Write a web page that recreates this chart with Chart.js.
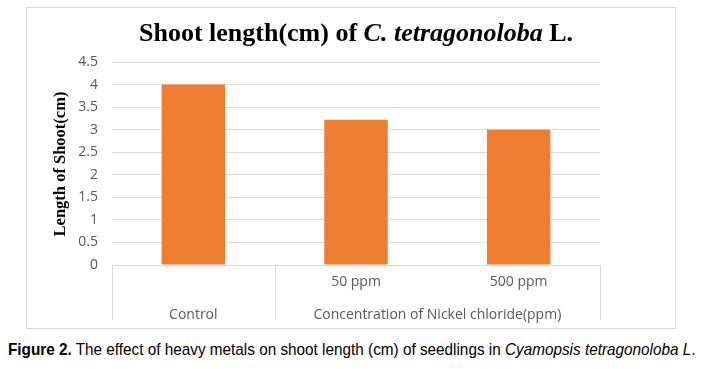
<!DOCTYPE html>
<html>
<head>
<meta charset="utf-8">
<script src="https://cdn.jsdelivr.net/npm/chart.js@4.4.1/dist/chart.umd.min.js"></script>
<style>
  html, body { margin: 0; padding: 0; background: #fff; }
  body { width: 711px; height: 369px; position: relative; overflow: hidden; }
  #box { position: absolute; left: 26px; top: 7px; width: 648px; height: 320px; border: 1px solid #d9d9d9; }
  #box canvas { display: block; }
  #caption { position: absolute; left: 8px; top: 341px; white-space: nowrap; line-height: 17px;
             font-family: "Liberation Sans", Arial, sans-serif; font-size: 17px; color: #000;
             transform: scaleX(0.9); transform-origin: left center; }
</style>
</head>
<body>
<div id="box"><canvas id="shootChart" width="648" height="320"></canvas></div>
<div id="caption"><b>Figure 2.</b> The effect of heavy metals on shoot length (cm) of seedlings in <i>Cyamopsis tetragonoloba L</i>.</div>
<script>
// Chart data
const categories = ['Control', '50 ppm', '500 ppm'];
const shootLength = [4.0, 3.22, 3.0];
const tickLabels = ['', '50 ppm', '500 ppm'];
const groupLabels = ['Control', 'Concentration of Nickel chloride(ppm)'];
const groupRanges = [[0, 0], [1, 2]];

const gridColor = '#d9d9d9';
const textColor = '#595959';
const tickFont = { family: '"Open Sans", Lato, sans-serif', size: 14 };

// title with mixed italic, y title, and the grouped x-axis table
const decorations = {
    id: 'decorations',
    afterDraw(chart) {
        const ctx = chart.ctx;
        const area = chart.chartArea;
        const x = chart.scales.x;

        // chart title
        const parts = [
            { t: 'Shoot length(cm) of ', it: false },
            { t: 'C. tetragonoloba', it: true },
            { t: ' L.', it: false }
        ];
        const fontFor = p => (p.it ? 'italic ' : '') + 'bold 26px "Liberation Serif", "Times New Roman", serif';
        ctx.save();
        ctx.fillStyle = '#000';
        ctx.textBaseline = 'middle';
        let total = 0;
        parts.forEach(p => { ctx.font = fontFor(p); p.w = ctx.measureText(p.t).width; total += p.w; });
        let cx = 329 - total / 2;
        parts.forEach(p => { ctx.font = fontFor(p); ctx.fillText(p.t, cx, 26); cx += p.w; });

        // y axis title
        ctx.translate(34, 156);
        ctx.rotate(-Math.PI / 2);
        ctx.textAlign = 'center';
        ctx.font = 'bold 16.5px "Liberation Serif", "Times New Roman", serif';
        ctx.fillText('Length of Shoot(cm)', 0, 0);
        ctx.restore();

        // grouped x labels with divider lines
        const half = (x.getPixelForValue(1) - x.getPixelForValue(0)) / 2;
        const top = area.bottom;
        const bottom = area.bottom + 55;
        ctx.save();
        ctx.strokeStyle = gridColor;
        ctx.lineWidth = 1;
        const edges = [area.left];
        groupRanges.forEach(r => edges.push(x.getPixelForValue(r[1]) + half));
        edges.forEach(px => {
            const p = Math.round(px) + 0.5;
            ctx.beginPath();
            ctx.moveTo(p, top);
            ctx.lineTo(p, bottom);
            ctx.stroke();
        });
        ctx.fillStyle = textColor;
        ctx.font = tickFont.size + 'px ' + tickFont.family;
        ctx.textAlign = 'center';
        ctx.textBaseline = 'middle';
        groupRanges.forEach((r, i) => {
            const mid = (x.getPixelForValue(r[0]) + x.getPixelForValue(r[1])) / 2;
            ctx.fillText(groupLabels[i], mid, area.bottom + 50);
        });
        ctx.restore();
    }
};

function initChart() {
    const ctx = document.getElementById('shootChart').getContext('2d');
    new Chart(ctx, {
        type: 'bar',
        data: {
            labels: categories,
            datasets: [{
                label: 'Shoot length',
                data: shootLength,
                backgroundColor: '#ed7d31',
                barPercentage: 0.39,
                categoryPercentage: 1
            }]
        },
        options: {
            responsive: false,
            animation: false,
            layout: { padding: { top: 54, right: 75, bottom: 0, left: 0 } },
            plugins: {
                legend: { display: false },
                tooltip: { enabled: false }
            },
            scales: {
                x: {
                    grid: { display: false, drawTicks: false },
                    border: { display: true, color: gridColor },
                    ticks: {
                        color: textColor,
                        font: tickFont,
                        padding: 9,
                        maxRotation: 0,
                        callback: (v, i) => tickLabels[i]
                    },
                    afterFit: s => { s.height = 63; }
                },
                y: {
                    min: 0,
                    max: 4.5,
                    grid: { color: gridColor, drawTicks: false },
                    border: { display: false },
                    ticks: {
                        stepSize: 0.5,
                        color: textColor,
                        font: tickFont,
                        padding: 14,
                        callback: v => String(v)
                    },
                    afterFit: s => { s.width = 85; }
                }
            }
        },
        plugins: [decorations]
    });
}

document.addEventListener('DOMContentLoaded', initChart);
</script>
</body>
</html>
